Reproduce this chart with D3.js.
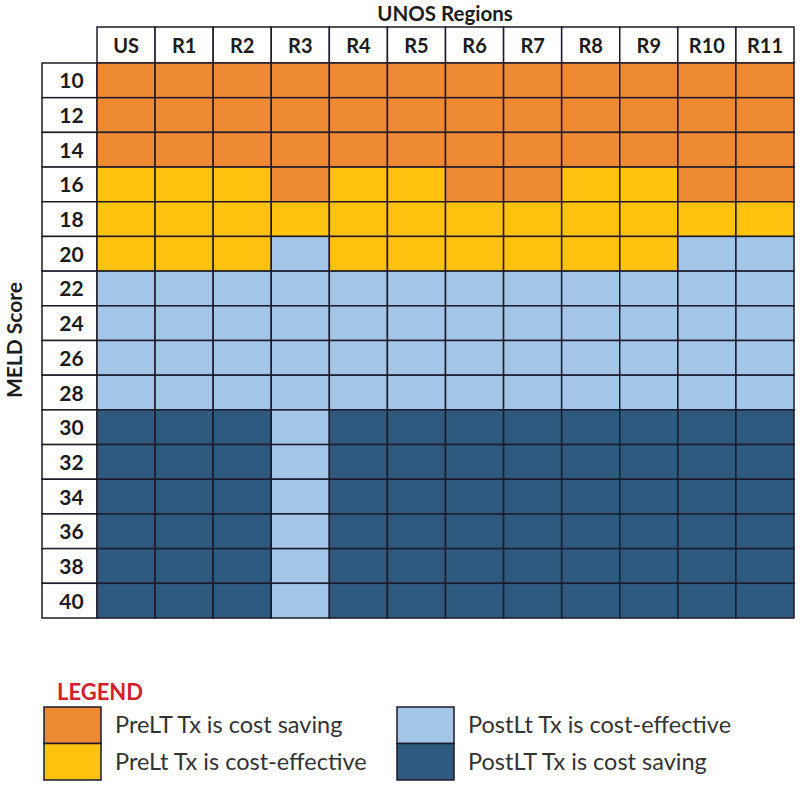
<!DOCTYPE html>
<html>
<head>
<meta charset="utf-8">
<script src="https://cdn.jsdelivr.net/npm/d3@7"></script>
<style>
  body { margin: 0; background: #fff; }
  text { font-family: Lato, "Open Sans", sans-serif; }
</style>
</head>
<body>
<div id="chart"></div>
<script>
// UNOS regions (columns) and MELD scores (rows)
const regions = ["US", "R1", "R2", "R3", "R4", "R5", "R6", "R7", "R8", "R9", "R10", "R11"];
const meldScores = [10, 12, 14, 16, 18, 20, 22, 24, 26, 28, 30, 32, 34, 36, 38, 40];

// outcome classes, in legend order
const outcomeLabels = [
  "PreLT Tx is cost saving",
  "PreLt Tx is cost-effective",
  "PostLt Tx is cost-effective",
  "PostLT Tx is cost saving"
];
const outcomeColors = ["#ee8934", "#ffc20e", "#a3c5e8", "#2f5a7f"];

// one row per MELD score, one value per region (index into outcomeLabels)
const outcomeByScore = [
  [0, 0, 0, 0, 0, 0, 0, 0, 0, 0, 0, 0],
  [0, 0, 0, 0, 0, 0, 0, 0, 0, 0, 0, 0],
  [0, 0, 0, 0, 0, 0, 0, 0, 0, 0, 0, 0],
  [1, 1, 1, 0, 1, 1, 0, 0, 1, 1, 0, 0],
  [1, 1, 1, 1, 1, 1, 1, 1, 1, 1, 1, 1],
  [1, 1, 1, 2, 1, 1, 1, 1, 1, 1, 2, 2],
  [2, 2, 2, 2, 2, 2, 2, 2, 2, 2, 2, 2],
  [2, 2, 2, 2, 2, 2, 2, 2, 2, 2, 2, 2],
  [2, 2, 2, 2, 2, 2, 2, 2, 2, 2, 2, 2],
  [2, 2, 2, 2, 2, 2, 2, 2, 2, 2, 2, 2],
  [3, 3, 3, 2, 3, 3, 3, 3, 3, 3, 3, 3],
  [3, 3, 3, 2, 3, 3, 3, 3, 3, 3, 3, 3],
  [3, 3, 3, 2, 3, 3, 3, 3, 3, 3, 3, 3],
  [3, 3, 3, 2, 3, 3, 3, 3, 3, 3, 3, 3],
  [3, 3, 3, 2, 3, 3, 3, 3, 3, 3, 3, 3],
  [3, 3, 3, 2, 3, 3, 3, 3, 3, 3, 3, 3]
];

const width = 800, height = 785;
const gridLeft = 97, gridRight = 794, headerTop = 27, gridTop = 63, gridBottom = 618;
const labelLeft = 42;
const lineColor = "#1e1a2a";
const textColor = "#1c1c1c";

const svg = d3.select("#chart").append("svg")
  .attr("width", width)
  .attr("height", height);

const x = d3.scaleBand().domain(regions).range([gridLeft, gridRight]);
const y = d3.scaleBand().domain(meldScores).range([gridTop, gridBottom]);
const color = d3.scaleOrdinal().domain(d3.range(outcomeLabels.length)).range(outcomeColors);

// flatten into cells
const cells = [];
meldScores.forEach((s, i) => {
  regions.forEach((r, j) => cells.push({ score: s, region: r, outcome: outcomeByScore[i][j] }));
});

// header boxes
svg.append("g").selectAll("rect")
  .data(regions)
  .join("rect")
  .attr("x", d => x(d))
  .attr("y", headerTop)
  .attr("width", x.bandwidth())
  .attr("height", gridTop - headerTop)
  .attr("fill", "#fff")
  .attr("stroke", lineColor)
  .attr("stroke-width", 1.5);

svg.append("g").selectAll("text")
  .data(regions)
  .join("text")
  .attr("x", d => x(d) + x.bandwidth() / 2)
  .attr("y", (headerTop + gridTop) / 2 + 8)
  .attr("text-anchor", "middle")
  .style("font-size", "20px")
  .style("font-weight", "bold")
  .style("fill", textColor)
  .text(d => d);

// row label boxes
svg.append("g").selectAll("rect")
  .data(meldScores)
  .join("rect")
  .attr("x", labelLeft)
  .attr("y", d => y(d))
  .attr("width", gridLeft - labelLeft)
  .attr("height", y.bandwidth())
  .attr("fill", "#fff")
  .attr("stroke", lineColor)
  .attr("stroke-width", 1.5);

svg.append("g").selectAll("text")
  .data(meldScores)
  .join("text")
  .attr("x", (labelLeft + gridLeft) / 2 + 2)
  .attr("y", d => y(d) + y.bandwidth() / 2 + 8)
  .attr("text-anchor", "middle")
  .style("font-size", "21px")
  .style("font-weight", "bold")
  .style("fill", textColor)
  .text(d => d);

// heat cells
svg.append("g").selectAll("rect")
  .data(cells)
  .join("rect")
  .attr("x", d => x(d.region))
  .attr("y", d => y(d.score))
  .attr("width", x.bandwidth())
  .attr("height", y.bandwidth())
  .attr("fill", d => color(d.outcome))
  .attr("stroke", lineColor)
  .attr("stroke-width", 1.5);

// titles
svg.append("text")
  .attr("x", 445)
  .attr("y", 21)
  .attr("text-anchor", "middle")
  .style("font-size", "20.5px")
  .style("font-weight", "bold")
  .style("fill", textColor)
  .text("UNOS Regions");

svg.append("text")
  .attr("transform", `translate(22, 340) rotate(-90)`)
  .attr("text-anchor", "middle")
  .style("font-size", "21px")
  .style("font-weight", "bold")
  .style("fill", textColor)
  .text("MELD Score");

// legend
svg.append("text")
  .attr("x", 57)
  .attr("y", 700)
  .style("font-size", "22px")
  .style("font-weight", "bold")
  .style("fill", "#d3202f")
  .text("LEGEND");

const legendCols = [44, 397];
const legendBoxW = 57, legendTop = 707, legendRowH = 36.5;
const legend = svg.append("g").selectAll("g")
  .data(outcomeLabels)
  .join("g")
  .attr("transform", (d, i) => `translate(${legendCols[Math.floor(i / 2)]}, ${legendTop + (i % 2) * legendRowH})`);

legend.append("rect")
  .attr("width", legendBoxW)
  .attr("height", legendRowH)
  .attr("fill", (d, i) => color(i))
  .attr("stroke", lineColor)
  .attr("stroke-width", 1.5);

legend.append("text")
  .attr("x", legendBoxW + 14)
  .attr("y", legendRowH / 2 + 8)
  .style("font-size", "23.5px")
  .style("fill", "#333")
  .text(d => d);
</script>
</body>
</html>
